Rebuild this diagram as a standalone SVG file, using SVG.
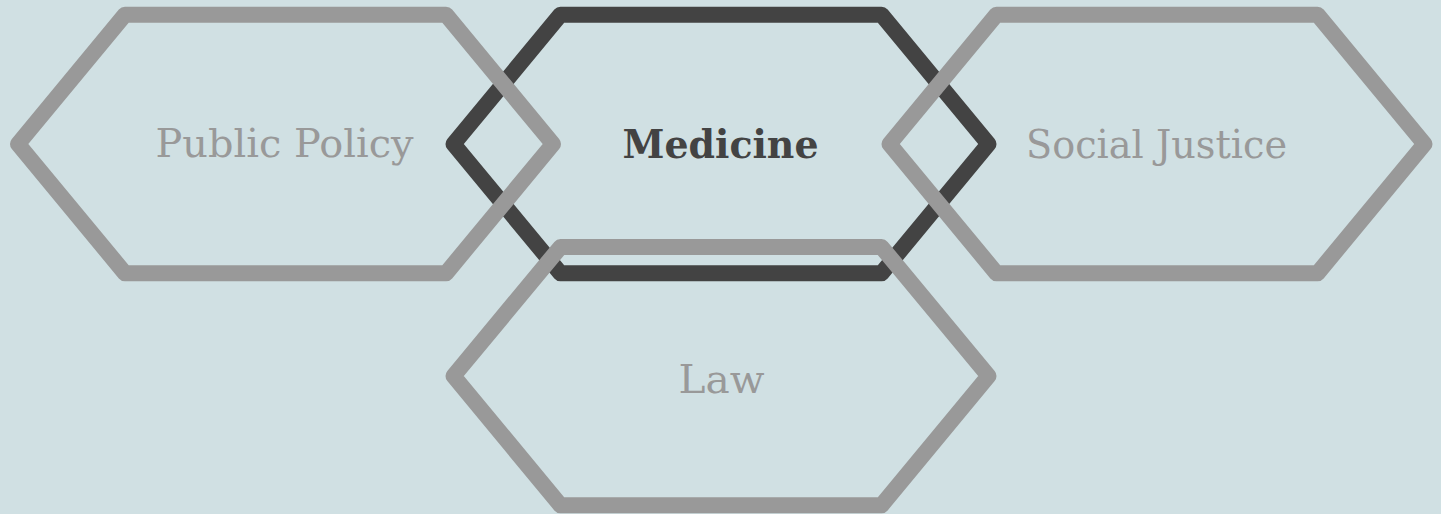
<svg xmlns="http://www.w3.org/2000/svg" width="1441" height="514" viewBox="0 0 1441 514">
  <style>
    .hex { fill: none; stroke-width: 16; stroke-linejoin: round; }
    .gray { stroke: #999999; }
    .dark { stroke: #434343; }
    .lbl { font-family: "DejaVu Serif", "Liberation Serif", serif; font-size: 40px; text-anchor: middle; }
    .lbl-gray { fill: #999999; }
    .lbl-dark { fill: #434343; font-weight: bold; }
  </style>
  <rect x="0" y="0" width="1441" height="514" fill="#d0e0e3"/>
  <g id="connectors"/>
  <g id="node-medicine">
    <polygon class="hex dark" points="453.5,144 560.5,14.7 881.5,14.7 988.5,144 881.5,273.3 560.5,273.3"/>
    <text class="lbl lbl-dark" x="720.5" y="158" textLength="196" lengthAdjust="spacingAndGlyphs">Medicine</text>
  </g>
  <g id="node-public-policy">
    <polygon class="hex gray" points="18,144 125,14.7 446,14.7 553,144 446,273.3 125,273.3"/>
    <text class="lbl lbl-gray" x="284.5" y="157" textLength="258" lengthAdjust="spacingAndGlyphs">Public Policy</text>
  </g>
  <g id="node-social-justice">
    <polygon class="hex gray" points="889.5,144 996.5,14.7 1317.5,14.7 1424.5,144 1317.5,273.3 996.5,273.3"/>
    <text class="lbl lbl-gray" x="1156.5" y="157.5" textLength="261" lengthAdjust="spacingAndGlyphs">Social Justice</text>
  </g>
  <g id="node-law">
    <polygon class="hex gray" points="453.5,376 560.5,247 881.5,247 988.5,376 881.5,505.3 560.5,505.3"/>
    <text class="lbl lbl-gray" x="721.5" y="393" textLength="86" lengthAdjust="spacingAndGlyphs">Law</text>
  </g>
</svg>
